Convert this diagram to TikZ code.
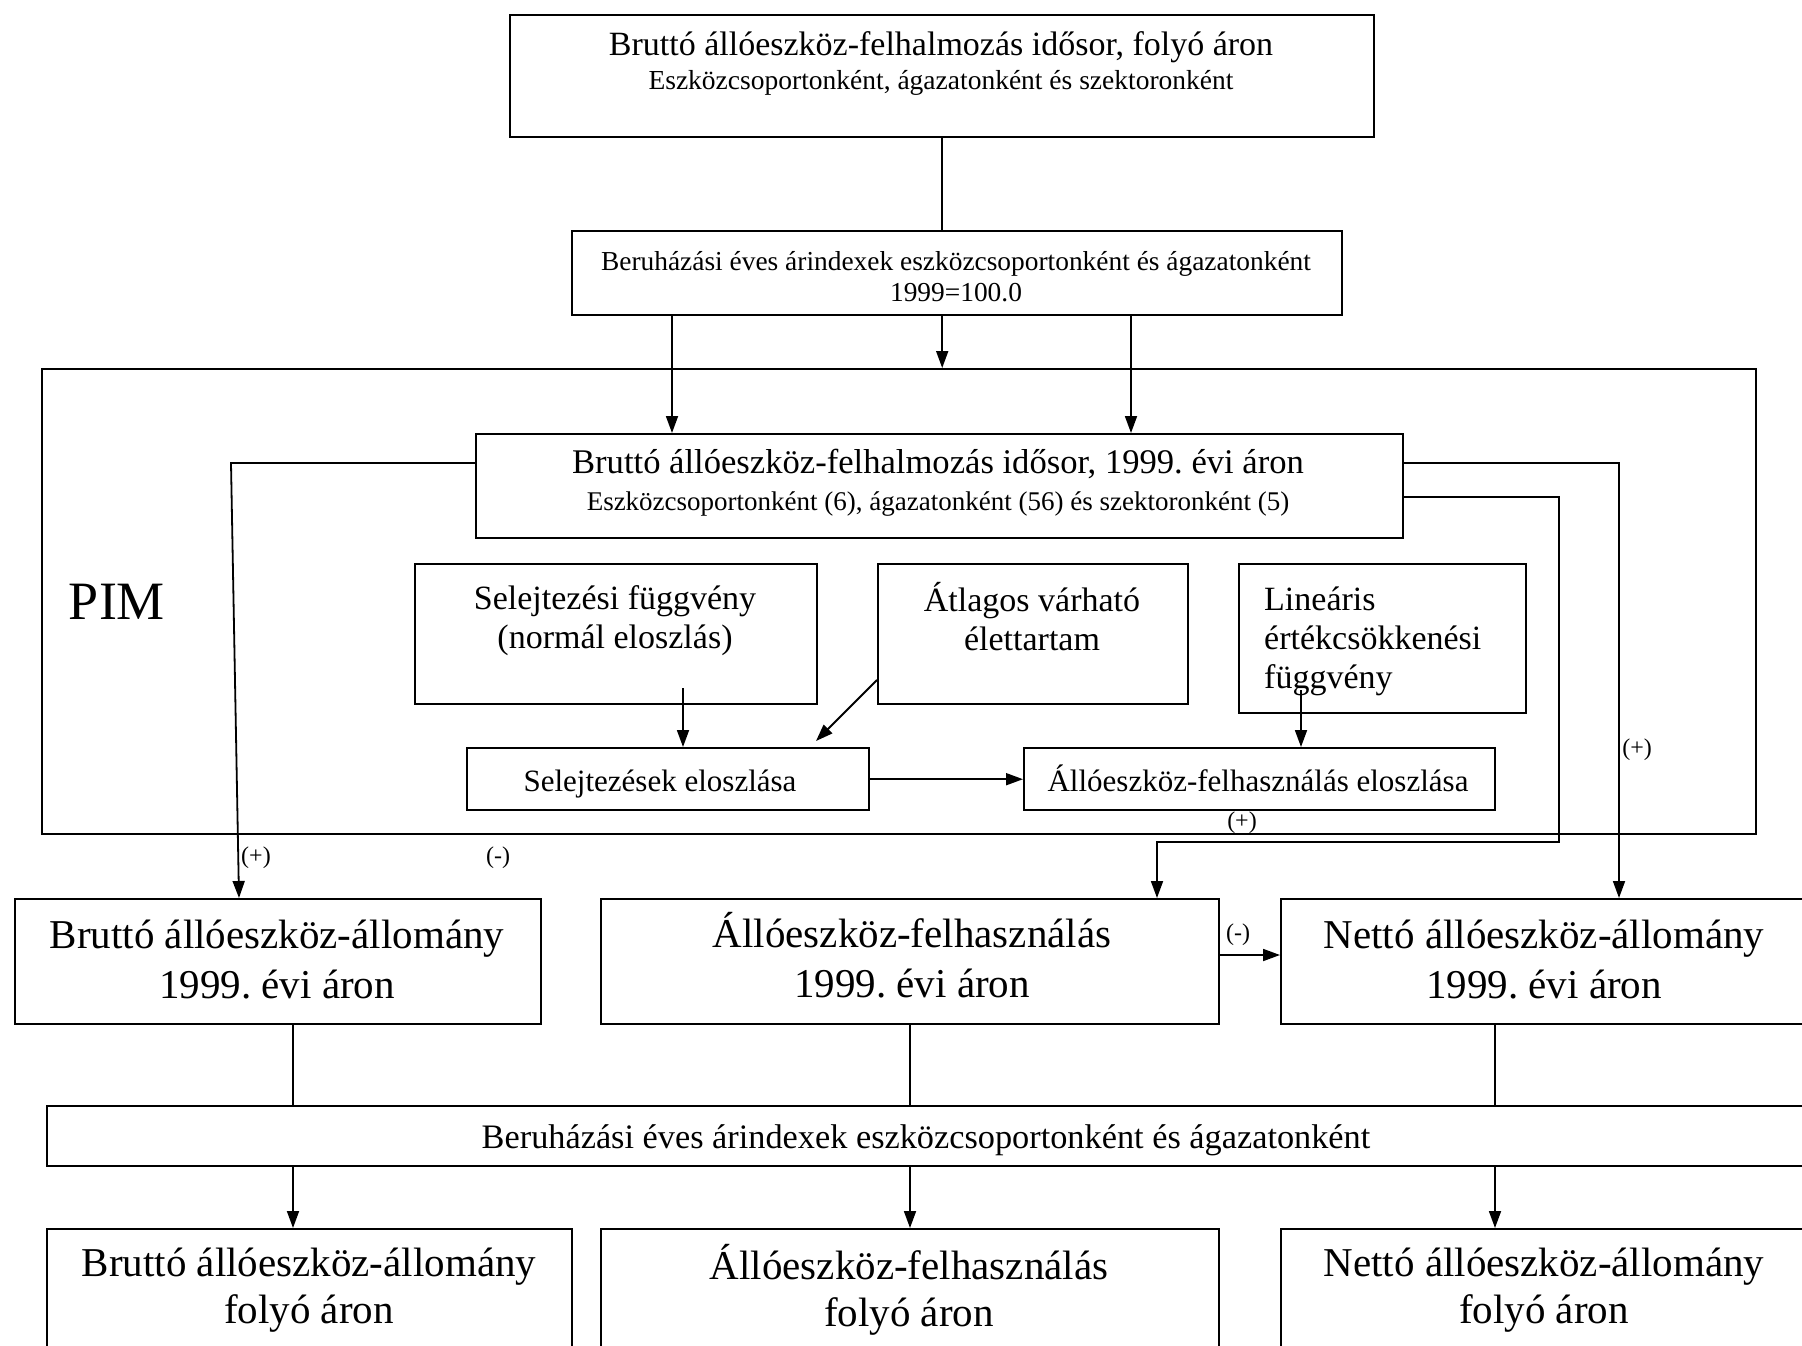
\documentclass[tikz,border=0pt]{standalone}
\usepackage{fontspec}
\setmainfont{Liberation Serif}
\usetikzlibrary{arrows.meta}
\newcommand\myfs[2]{\fontsize{#1}{#2}\selectfont}
\frenchspacing
\begin{document}
\begin{tikzpicture}[x=1pt,y=-1pt,
  box/.style={draw, line width=2.4pt, inner sep=0pt, anchor=north west},
  txt/.style={inner sep=0pt, align=center},
  conn/.style={line width=1.8pt},
  arr/.style={line width=1.8pt, -{Triangle[length=17pt,width=12pt]}},
  lbl/.style={inner sep=0pt, font=\myfs{24}{26}}]
\useasboundingbox (0,0) rectangle (1802,1346);
\clip (0,0) rectangle (1802,1346);
\fill[white] (0,0) rectangle (1802,1346);

% boxes
\node[box, minimum width=864pt, minimum height=122pt] (top) at (509,14) {};
\node[box, minimum width=770pt, minimum height=84pt] (box2) at (571,230) {};
\node[box, minimum width=1714pt, minimum height=465pt] (pim) at (41,368) {};
\node[box, minimum width=927pt, minimum height=104pt] (box3) at (475,433) {};
\node[box, minimum width=402pt, minimum height=140pt] (self) at (414,563) {};
\node[box, minimum width=310pt, minimum height=140pt] (atl) at (877,563) {};
\node[box, minimum width=287pt, minimum height=149pt] (lin) at (1238,563) {};
\node[box, minimum width=402pt, minimum height=62pt] (sele) at (466,747) {};
\node[box, minimum width=471pt, minimum height=62pt] (alle) at (1023,747) {};
\node[box, minimum width=526pt, minimum height=125pt] (r1a) at (14,898) {};
\node[box, minimum width=618pt, minimum height=125pt] (r1b) at (600,898) {};
\node[box, minimum width=528pt, minimum height=125pt] (r1c) at (1280,898) {};
\node[box, minimum width=1760pt, minimum height=60pt] (bar) at (46,1105) {};
\node[box, minimum width=525pt, minimum height=150pt] (r2a) at (46,1228) {};
\node[box, minimum width=618pt, minimum height=150pt] (r2b) at (600,1228) {};
\node[box, minimum width=528pt, minimum height=150pt] (r2c) at (1280,1228) {};

% texts
\node[txt, font=\myfs{34}{34}] (ttop) at (941,63) {Bruttó állóeszköz-felhalmozás idősor, folyó áron\\\myfs{27.5}{34}Eszközcsoportonként, ágazatonként és szektoronként};
\node[txt, font=\myfs{27.4}{31}] (tbox2) at (956,277) {Beruházási éves árindexek eszközcsoportonként és ágazatonként\\1999=100.0};
\node[txt, font=\myfs{34.6}{37}] (tbox3) at (938,483) {Bruttó állóeszköz-felhalmozás idősor, 1999. évi áron\\\myfs{27}{37}Eszközcsoportonként (6), ágazatonként (56) és szektoronként (5)};
\node[txt, font=\myfs{54}{60}] (tpim) at (117,602) {PIM};
\node[txt, font=\myfs{34}{39}] (tself) at (615,621) {Selejtezési függvény\\(normál eloszlás)};
\node[txt, font=\myfs{34}{39}] (tatl) at (1032,617) {Átlagos várható\\élettartam};
\node[txt, font=\myfs{34}{39}, align=left, anchor=west] (tlin) at (1264,641) {Lineáris\\értékcsökkenési\\függvény};
\node[txt, font=\myfs{31}{34}] (tsele) at (660,784) {Selejtezések eloszlása};
\node[txt, font=\myfs{31}{34}] (talle) at (1258,778) {Állóeszköz-felhasználás eloszlása};
\node[txt, font=\myfs{41}{50}] (tr1a) at (277,960) {Bruttó állóeszköz-állomány\\1999. évi áron};
\node[txt, font=\myfs{41}{50}] (tr1b) at (912,955) {Állóeszköz-felhasználás\\1999. évi áron};
\node[txt, font=\myfs{41}{50}] (tr1c) at (1544,960) {Nettó állóeszköz-állomány\\1999. évi áron};
\node[txt, font=\myfs{34.3}{38}] (tbar) at (926,1140) {Beruházási éves árindexek eszközcsoportonként és ágazatonként};
\node[txt, font=\myfs{41}{47}] (tr2a) at (309,1290) {Bruttó állóeszköz-állomány\\folyó áron};
\node[txt, font=\myfs{41}{47}] (tr2b) at (909,1290) {Állóeszköz-felhasználás\\folyó áron};
\node[txt, font=\myfs{41}{47}] (tr2c) at (1544,1290) {Nettó állóeszköz-állomány\\folyó áron};

% labels
\node[lbl] (l1) at (256,858) {(+)};
\node[lbl] (l2) at (498,858) {(-)};
\node[lbl] (l3) at (1637,750) {(+)};
\node[lbl] (l4) at (1242,823) {(+)};
\node[lbl] (l5) at (1238,935) {(-)};

% helper coordinates
\coordinate (k1) at (672,0);
\coordinate (k2) at (1131,0);
\coordinate (k3) at (231,463);
\coordinate (k4) at (239,0);
\coordinate (k5) at (1619,463);
\coordinate (k6) at (1559,497);
\coordinate (k7) at (1157,842);
\coordinate (k8) at (683,688);
\coordinate (k9) at (0,680);
\coordinate (k10) at (816,741);
\coordinate (k11) at (1301,690);
\coordinate (k13) at (0,955);
\coordinate (c1) at (293,0);
\coordinate (c2) at (910,0);
\coordinate (c3) at (1495,0);

% connectors
\draw[conn] (top.south) -- (box2.north -| top.south);
\draw[arr] (box2.south -| k1) -- (box3.north -| k1);
\draw[arr] (box2.south -| top.south) -- (pim.north -| top.south);
\draw[arr] (box2.south -| k2) -- (box3.north -| k2);
\draw[arr] (box3.west |- k3) -- (k3) -- (r1a.north -| k4);
\draw[arr] (box3.east |- k5) -- (k5) -- (r1c.north -| k5);
\draw[arr] (box3.east |- k6) -- (k6) -- (k6 |- k7) -- (k7) -- (r1b.north -| k7);
\draw[arr] (k8) -- (sele.north -| k8);
\draw[arr] (atl.west |- k9) -- (k10);
\draw[arr] (k11) -- (alle.north -| k11);
\draw[arr] (sele.east) -- (alle.west);
\draw[arr] (r1b.east |- k13) -- (r1c.west |- k13);
\draw[conn] (r1a.south -| c1) -- (bar.north -| c1);
\draw[conn] (r1b.south -| c2) -- (bar.north -| c2);
\draw[conn] (r1c.south -| c3) -- (bar.north -| c3);
\draw[arr] (bar.south -| c1) -- (r2a.north -| c1);
\draw[arr] (bar.south -| c2) -- (r2b.north -| c2);
\draw[arr] (bar.south -| c3) -- (r2c.north -| c3);
\end{tikzpicture}
\end{document}
